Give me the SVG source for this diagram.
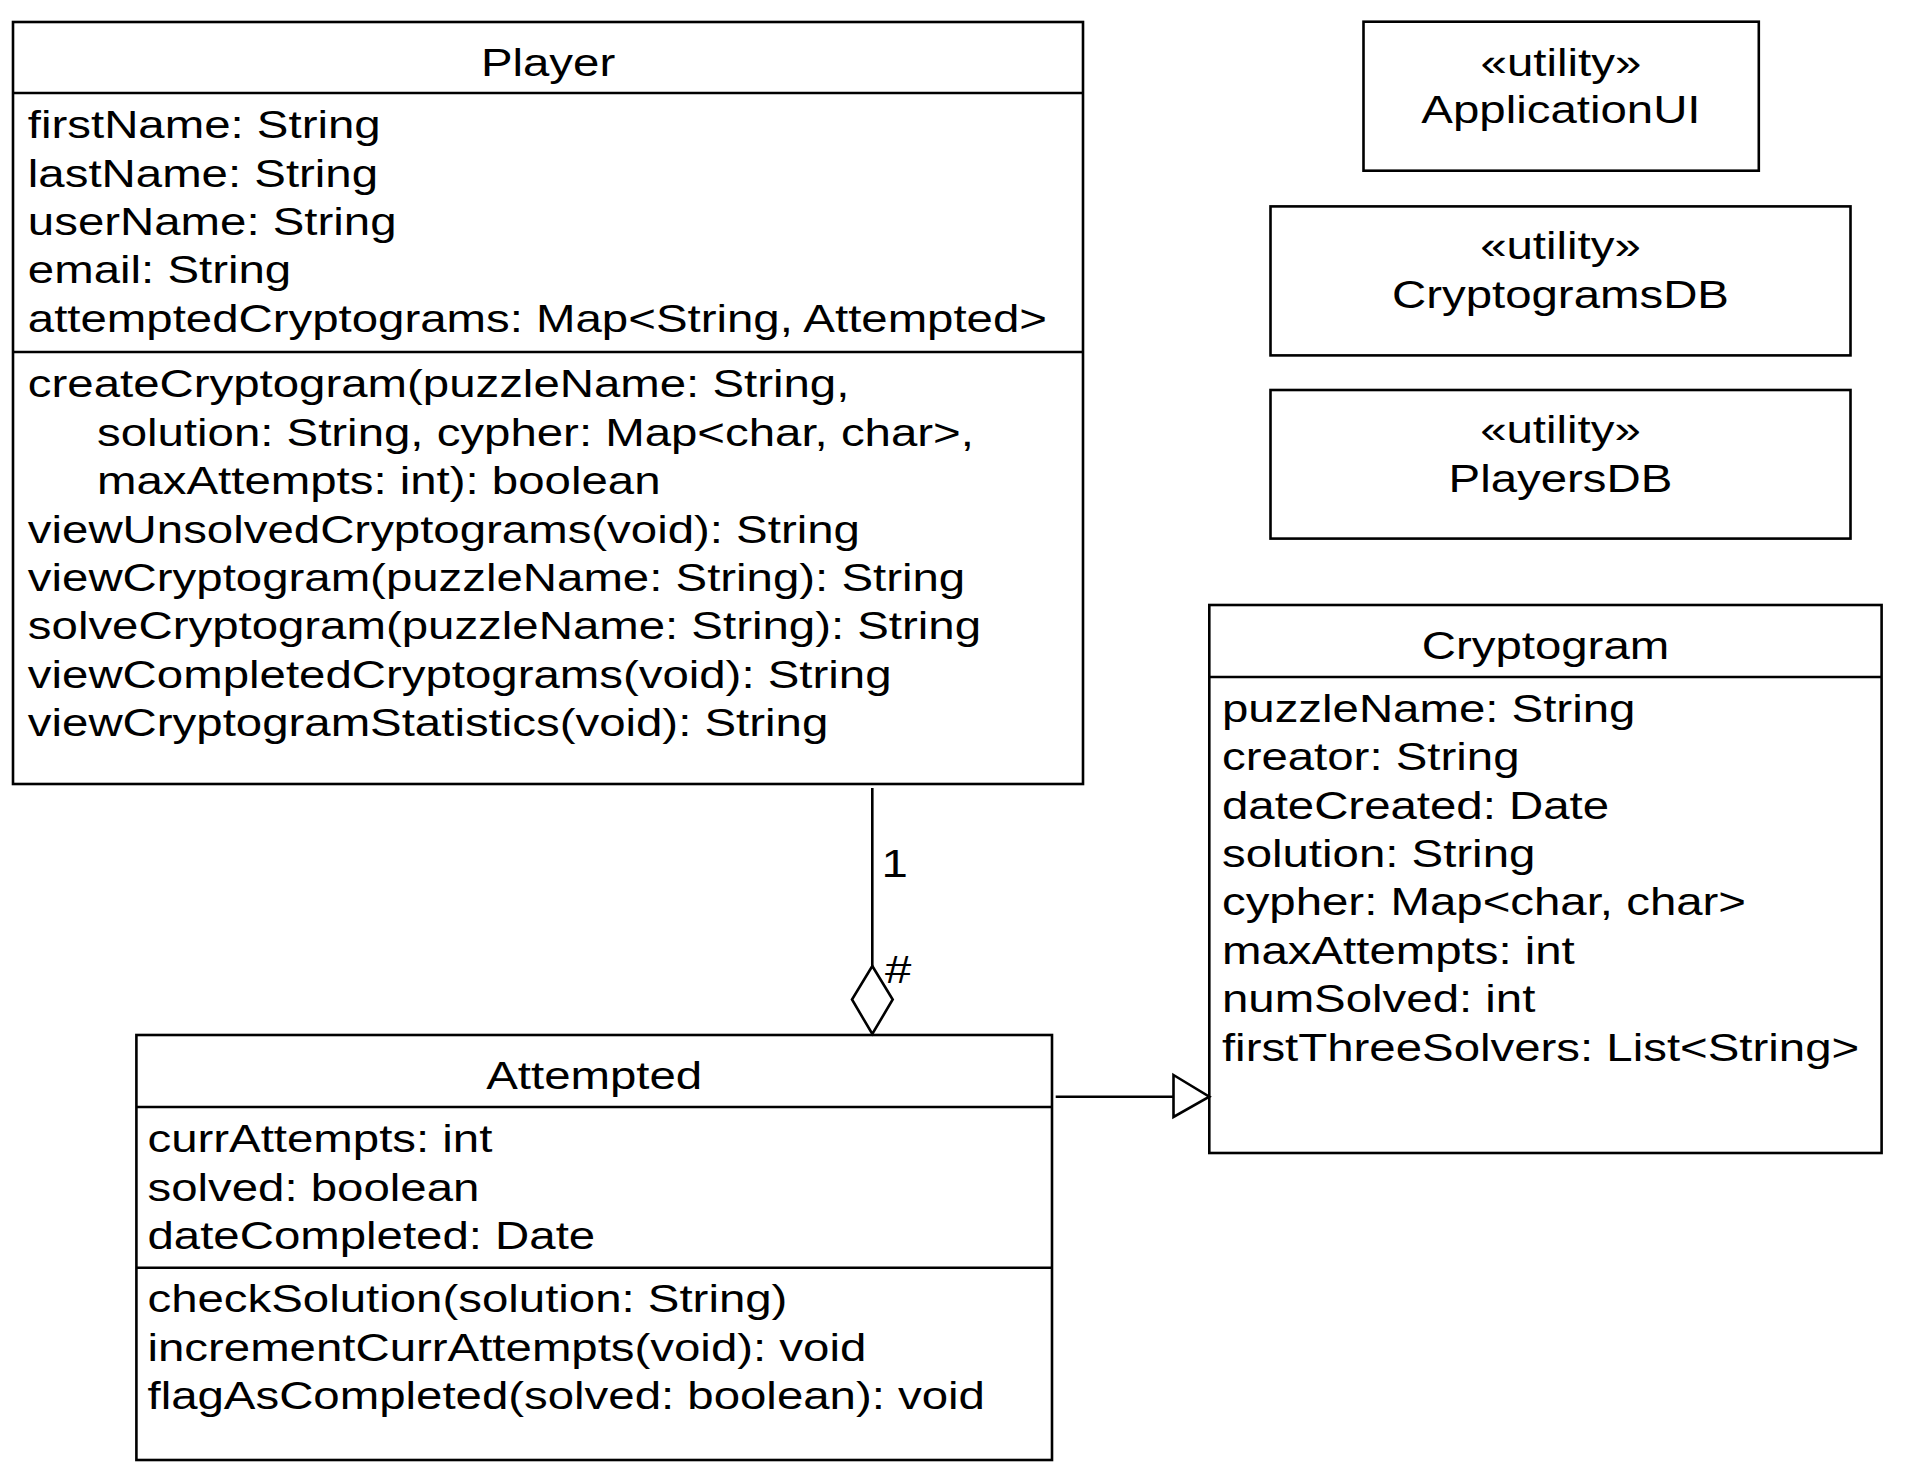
<svg xmlns="http://www.w3.org/2000/svg" width="1910" height="1478" viewBox="0 0 1910 1478">
<style>
.box{fill:#fff;stroke:#000;stroke-width:2.6}
.ln{stroke:#000;stroke-width:2.6;fill:none}
.head{fill:#fff;stroke:#000;stroke-width:2.6;stroke-linejoin:miter}
.t{font-family:"Liberation Sans",Arial,Helvetica,sans-serif;font-size:39.5px;fill:#000}
.c{text-anchor:middle}
</style>
<rect width="1910" height="1478" fill="#fff"/>

<g id="Player">
<rect class="box" x="13" y="22" width="1070" height="762"/>
<line class="ln" x1="13" y1="93" x2="1083" y2="93"/>
<line class="ln" x1="13" y1="352" x2="1083" y2="352"/>
<g transform="scale(1.2,1)" class="t">
<text class="c" x="456.7" y="76">Player</text>
<text x="23.2" y="138.3">firstName: String</text>
<text x="23.2" y="186.7">lastName: String</text>
<text x="23.2" y="235.1">userName: String</text>
<text x="23.2" y="283.5">email: String</text>
<text x="23.2" y="331.9">attemptedCryptograms: Map&lt;String, Attempted&gt;</text>
<text x="23.2" y="397.5">createCryptogram(puzzleName: String,</text>
<text x="80.8" y="445.9">solution: String, cypher: Map&lt;char, char&gt;,</text>
<text x="80.8" y="494.3">maxAttempts: int): boolean</text>
<text x="23.2" y="542.7">viewUnsolvedCryptograms(void): String</text>
<text x="23.2" y="591.1">viewCryptogram(puzzleName: String): String</text>
<text x="23.2" y="639.5">solveCryptogram(puzzleName: String): String</text>
<text x="23.2" y="687.9">viewCompletedCryptograms(void): String</text>
<text x="23.2" y="736.3">viewCryptogramStatistics(void): String</text>
</g>
</g>

<g id="ApplicationUI">
<rect class="box" x="1363.5" y="21.7" width="395.3" height="149"/>
<g transform="scale(1.2,1)" class="t">
<text class="c" x="1300.8" y="76">«utility»</text>
<text class="c" x="1300.8" y="123.5">ApplicationUI</text>
</g>
</g>

<g id="CryptogramsDB">
<rect class="box" x="1270.5" y="206.4" width="580" height="149"/>
<g transform="scale(1.2,1)" class="t">
<text class="c" x="1300.4" y="259">«utility»</text>
<text class="c" x="1300.4" y="308">CryptogramsDB</text>
</g>
</g>

<g id="PlayersDB">
<rect class="box" x="1270.5" y="390" width="580" height="148.6"/>
<g transform="scale(1.2,1)" class="t">
<text class="c" x="1300.4" y="443">«utility»</text>
<text class="c" x="1300.4" y="492">PlayersDB</text>
</g>
</g>

<g id="Cryptogram">
<rect class="box" x="1209.3" y="605" width="672.3" height="548"/>
<line class="ln" x1="1209.3" y1="677" x2="1881.6" y2="677"/>
<g transform="scale(1.2,1)" class="t">
<text class="c" x="1287.9" y="659">Cryptogram</text>
<text x="1018.3" y="721.8">puzzleName: String</text>
<text x="1018.3" y="770.2">creator: String</text>
<text x="1018.3" y="818.6">dateCreated: Date</text>
<text x="1018.3" y="867">solution: String</text>
<text x="1018.3" y="915.4">cypher: Map&lt;char, char&gt;</text>
<text x="1018.3" y="963.8">maxAttempts: int</text>
<text x="1018.3" y="1012.2">numSolved: int</text>
<text x="1018.3" y="1060.6">firstThreeSolvers: List&lt;String&gt;</text>
</g>
</g>

<g id="Attempted">
<rect class="box" x="136.4" y="1035" width="915.6" height="425"/>
<line class="ln" x1="136.4" y1="1107" x2="1052" y2="1107"/>
<line class="ln" x1="136.4" y1="1267.7" x2="1052" y2="1267.7"/>
<g transform="scale(1.2,1)" class="t">
<text class="c" x="495.2" y="1089">Attempted</text>
<text x="122.9" y="1152.5">currAttempts: int</text>
<text x="122.9" y="1200.9">solved: boolean</text>
<text x="122.9" y="1249.3">dateCompleted: Date</text>
<text x="122.9" y="1312.5">checkSolution(solution: String)</text>
<text x="122.9" y="1360.9">incrementCurrAttempts(void): void</text>
<text x="122.9" y="1409.3">flagAsCompleted(solved: boolean): void</text>
</g>
</g>

<g id="connectors">
<line class="ln" x1="872.3" y1="788" x2="872.3" y2="966"/>
<polygon class="head" points="872.3,966 892.7,999.5 872.3,1034 852,999.5"/>
<line class="ln" x1="1055.7" y1="1096.7" x2="1173.5" y2="1096.7"/>
<polygon class="head" points="1173.5,1075 1209.3,1096.7 1173.5,1117"/>
<g transform="scale(1.2,1)" class="t">
<text x="734.5" y="877">1</text>
<text x="737.5" y="983">#</text>
</g>
</g>
</svg>
